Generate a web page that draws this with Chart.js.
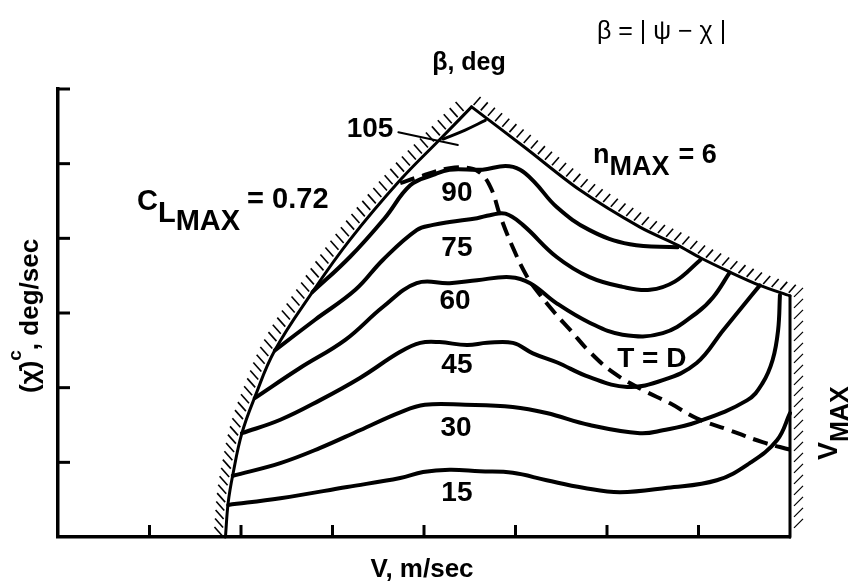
<!DOCTYPE html>
<html>
<head>
<meta charset="utf-8">
<script src="https://cdn.jsdelivr.net/npm/chart.js@4.4.0/dist/chart.umd.min.js"></script>
<style>
  html, body { margin: 0; padding: 0; background: #fff; }
</style>
</head>
<body>
<canvas id="chart" width="852" height="587"></canvas>
<script>
// axis ranges (V and commanded turn rate, unlabeled tick units)
const xTicks = [0, 1, 2, 3, 4, 5, 6, 7, 8];
const yTicks = [0, 1, 2, 3, 4, 5, 6];

// constant-beta contours, [V, turn rate]
const beta15 = [[1.86,0.43],[2.43,0.52],[3.16,0.67],[3.74,0.79],[3.99,0.87],[4.28,0.90],[4.61,0.88],[4.97,0.86],[5.34,0.76],[5.74,0.66],[6.14,0.60],[6.66,0.66],[7.20,0.76],[7.56,0.99],[7.86,1.30],[8.00,1.66]];
const beta30 = [[1.91,0.82],[2.43,0.99],[2.86,1.19],[3.30,1.43],[3.74,1.67],[4.01,1.77],[4.45,1.77],[4.97,1.74],[5.34,1.66],[5.81,1.50],[6.36,1.39],[6.61,1.43],[6.98,1.54],[7.53,1.83],[7.70,2.06],[7.81,2.37],[7.87,2.77],[7.89,3.24]];
const beta45 = [[2.01,1.39],[2.43,1.57],[2.86,1.83],[3.30,2.13],[3.74,2.48],[3.96,2.60],[4.17,2.61],[4.47,2.57],[4.69,2.60],[4.97,2.60],[5.19,2.46],[5.45,2.34],[5.81,2.14],[6.22,2.01],[6.61,2.10],[6.98,2.33],[7.27,2.77],[7.51,3.13],[7.67,3.37]];
const beta60 = [[2.15,1.86],[2.64,2.26],[3.14,2.64],[3.55,3.08],[3.92,3.40],[4.28,3.40],[4.58,3.44],[4.94,3.48],[5.16,3.40],[5.45,3.13],[5.81,2.87],[6.17,2.71],[6.61,2.73],[6.98,3.00],[7.16,3.21],[7.34,3.54]];
const beta75 = [[2.37,2.50],[2.81,2.91],[3.25,3.31],[3.55,3.71],[3.92,4.11],[4.10,4.18],[4.28,4.22],[4.58,4.27],[4.72,4.31],[4.89,4.33],[5.08,4.18],[5.45,3.75],[5.81,3.48],[6.17,3.35],[6.47,3.31],[6.74,3.42],[7.02,3.71]];
const beta90 = [[2.78,3.28],[3.19,3.75],[3.57,4.27],[3.85,4.71],[4.10,4.85],[4.28,4.92],[4.64,4.92],[4.89,4.97],[5.05,4.92],[5.21,4.75],[5.45,4.42],[5.81,4.11],[6.25,3.92],[6.77,3.88]];
const beta105 = [[4.21,5.33],[4.45,5.45],[4.67,5.58]];

// flight envelope limits
const clMaxLimit = [[1.83,0.00],[1.86,0.46],[1.91,0.83],[2.01,1.39],[2.15,1.87],[2.37,2.50],[2.78,3.28],[3.19,3.98],[3.74,4.78],[4.17,5.32],[4.52,5.76]];
const nMaxLimit = [[4.52,5.76],[5.11,5.21],[5.70,4.65],[6.36,4.15],[6.77,3.91],[7.02,3.74],[7.34,3.55],[7.67,3.37],[8.00,3.23]];
const vMaxLimit = [[8.00,3.23],[8.00,0.00]];

// thrust = drag line
const thrustDrag = [[3.74,4.74],[3.96,4.83],[4.28,4.94],[4.50,4.94],[4.63,4.86],[4.74,4.65],[4.83,4.31],[4.97,3.88],[5.13,3.48],[5.27,3.24],[5.43,3.00],[5.60,2.77],[5.81,2.48],[6.07,2.20],[6.39,1.97],[6.69,1.79],[6.98,1.59],[7.34,1.43],[7.70,1.27],[8.00,1.17]];

// pointer from the "105" label to its contour
const leader105 = [[3.72,5.42],[4.37,5.25]];

// label anchors in axis units
const contourLabels = [
  { text: '105', x: 3.41, y: 5.46 },
  { text: '90', x: 4.36, y: 4.61 },
  { text: '75', x: 4.36, y: 3.87 },
  { text: '60', x: 4.34, y: 3.16 },
  { text: '45', x: 4.36, y: 2.30 },
  { text: '30', x: 4.35, y: 1.46 },
  { text: '15', x: 4.36, y: 0.59 },
  { text: 'T = D', x: 6.49, y: 2.38 }
];

const FONT = '"Liberation Sans", Arial, sans-serif';
const pts = arr => arr.map(p => ({ x: p[0], y: p[1] }));

function curve(data, width, extra) {
  return Object.assign({
    data: pts(data),
    borderColor: '#000',
    borderWidth: width,
    pointRadius: 0,
    tension: 0.4,
    fill: false,
    clip: false,
    borderCapStyle: 'round',
    borderJoinStyle: 'round'
  }, extra || {});
}

// sample the drawn bezier path of a dataset in pixels
function pathSamples(meta) {
  const el = meta.data;
  const out = [];
  for (let i = 0; i < el.length - 1; i++) {
    const a = el[i], b = el[i + 1];
    const c1x = a.cp2x ?? a.x, c1y = a.cp2y ?? a.y;
    const c2x = b.cp1x ?? b.x, c2y = b.cp1y ?? b.y;
    for (let k = 0; k < 24; k++) {
      const t = k / 24, u = 1 - t;
      out.push({
        x: u*u*u*a.x + 3*u*u*t*c1x + 3*u*t*t*c2x + t*t*t*b.x,
        y: u*u*u*a.y + 3*u*u*t*c1y + 3*u*t*t*c2y + t*t*t*b.y
      });
    }
  }
  const last = el[el.length - 1];
  out.push({ x: last.x, y: last.y });
  return out;
}

const hatchPlugin = {
  id: 'hatch',
  afterDatasetsDraw(chart) {
    const ctx = chart.ctx;
    chart.data.datasets.forEach((ds, i) => {
      if (!ds.hatch) return;
      const h = ds.hatch;
      const s = pathSamples(chart.getDatasetMeta(i));
      ctx.save();
      ctx.strokeStyle = h.color || '#000';
      ctx.lineWidth = h.width;
      ctx.lineCap = 'butt';
      let acc = 0;
      let next = h.start || 0;
      for (let k = 1; k < s.length; k++) {
        const dx = s[k].x - s[k-1].x, dy = s[k].y - s[k-1].y;
        const len = Math.hypot(dx, dy);
        while (next <= acc + len) {
          const t = len ? (next - acc) / len : 0;
          const px = s[k-1].x + dx * t, py = s[k-1].y + dy * t;
          ctx.beginPath();
          ctx.moveTo(px + h.a[0], py + h.a[1]);
          ctx.lineTo(px + h.b[0], py + h.b[1]);
          ctx.stroke();
          next += h.gap;
        }
        acc += len;
      }
      ctx.restore();
    });
  }
};

// inward tick marks on both axes
const tickPlugin = {
  id: 'inwardTicks',
  afterDraw(chart) {
    const { ctx, chartArea, scales } = chart;
    ctx.save();
    ctx.strokeStyle = '#000';
    ctx.lineWidth = 3;
    ctx.lineCap = 'butt';
    scales.x.ticks.forEach(t => {
      if (t.value <= 0 || t.value >= 8) return;
      const px = scales.x.getPixelForValue(t.value);
      ctx.beginPath();
      ctx.moveTo(px, chartArea.bottom);
      ctx.lineTo(px, chartArea.bottom - 12);
      ctx.stroke();
    });
    scales.y.ticks.forEach(t => {
      if (t.value <= 0) return;
      const py = scales.y.getPixelForValue(t.value);
      ctx.beginPath();
      ctx.moveTo(chartArea.left, py);
      ctx.lineTo(chartArea.left + 12, py);
      ctx.stroke();
    });
    ctx.restore();
  }
};

// run of text pieces with individual size and baseline shift
function textRun(ctx, x, y, parts) {
  let cx = x;
  parts.forEach(p => {
    ctx.font = p.font;
    ctx.fillText(p.t, cx, y + (p.dy || 0));
    cx += ctx.measureText(p.t).width + (p.gap || 0);
  });
}

const textPlugin = {
  id: 'texts',
  afterDraw(chart) {
    const { ctx, scales } = chart;
    ctx.save();
    ctx.fillStyle = '#000';
    ctx.textBaseline = 'middle';
    ctx.textAlign = 'center';
    ctx.font = 'bold 28px ' + FONT;
    contourLabels.forEach(l => {
      ctx.fillText(l.text, scales.x.getPixelForValue(l.x), scales.y.getPixelForValue(l.y));
    });

    ctx.textBaseline = 'alphabetic';
    ctx.textAlign = 'left';
    const B = s => 'bold ' + s + 'px ' + FONT;

    ctx.font = '25px ' + FONT;
    ctx.fillText('\u03B2 = | \u03C8 \u2212 \u03C7 |', 597, 39);

    ctx.textAlign = 'center';
    ctx.font = B(25);
    ctx.fillText('\u03B2, deg', 469, 70);
    ctx.font = B(26);
    ctx.fillText('V, m/sec', 422, 577);
    ctx.textAlign = 'left';

    textRun(ctx, 137, 210, [
      { t: 'C', font: B(29) },
      { t: 'L', font: B(29), dy: 12 },
      { t: 'MAX', font: B(29), dy: 20, gap: 7 },
      { t: '= 0.72', font: B(29), dy: -2 }
    ]);
    textRun(ctx, 593, 163, [
      { t: 'n', font: B(27) },
      { t: 'MAX', font: B(27), dy: 12, gap: 9 },
      { t: '= 6', font: B(27) }
    ]);

    ctx.save();
    ctx.translate(837, 460);
    ctx.rotate(-Math.PI / 2);
    textRun(ctx, 0, 0, [
      { t: 'V', font: B(27) },
      { t: 'MAX', font: B(25), dy: 11 }
    ]);
    ctx.restore();

    ctx.save();
    ctx.translate(38, 393);
    ctx.rotate(-Math.PI / 2);
    textRun(ctx, 0, 0, [
      { t: '(\u03C7\u0307)', font: B(26) },
      { t: 'c', font: B(19), dy: -17 },
      { t: ', deg/sec', font: B(26) }
    ]);
    ctx.restore();
    ctx.restore();
  }
};

const axisOpts = (max) => ({
  type: 'linear',
  min: 0,
  max: max,
  ticks: { display: false, stepSize: 1 },
  grid: { display: false, drawTicks: false },
  border: { display: true, width: 3.5, color: '#000' }
});

new Chart(document.getElementById('chart').getContext('2d'), {
  type: 'line',
  data: {
    datasets: [
      curve(beta15, 4),
      curve(beta30, 4),
      curve(beta45, 4),
      curve(beta60, 4),
      curve(beta75, 4),
      curve(beta90, 4),
      curve(beta105, 3),
      curve(leader105, 2, { tension: 0 }),
      curve(thrustDrag, 4, { borderDash: [15, 8], borderCapStyle: 'butt' }),
      curve(clMaxLimit, 3, { hatch: { a: [-3, -1], b: [-11, -10], gap: 8.5, width: 1.6 } }),
      curve(nMaxLimit, 3, { tension: 0.3, hatch: { a: [2, -2], b: [9, -10], gap: 9, width: 1.6 } }),
      curve(vMaxLimit, 3, { tension: 0, hatch: { a: [4, 1], b: [13, -8], gap: 11, width: 1.2 } })
    ]
  },
  options: {
    responsive: false,
    animation: false,
    events: [],
    layout: { padding: { left: 58, top: 89, right: 62, bottom: 50 } },
    plugins: { legend: { display: false }, tooltip: { enabled: false } },
    scales: { x: axisOpts(8), y: axisOpts(6) }
  },
  plugins: [hatchPlugin, tickPlugin, textPlugin]
});
</script>
</body>
</html>
